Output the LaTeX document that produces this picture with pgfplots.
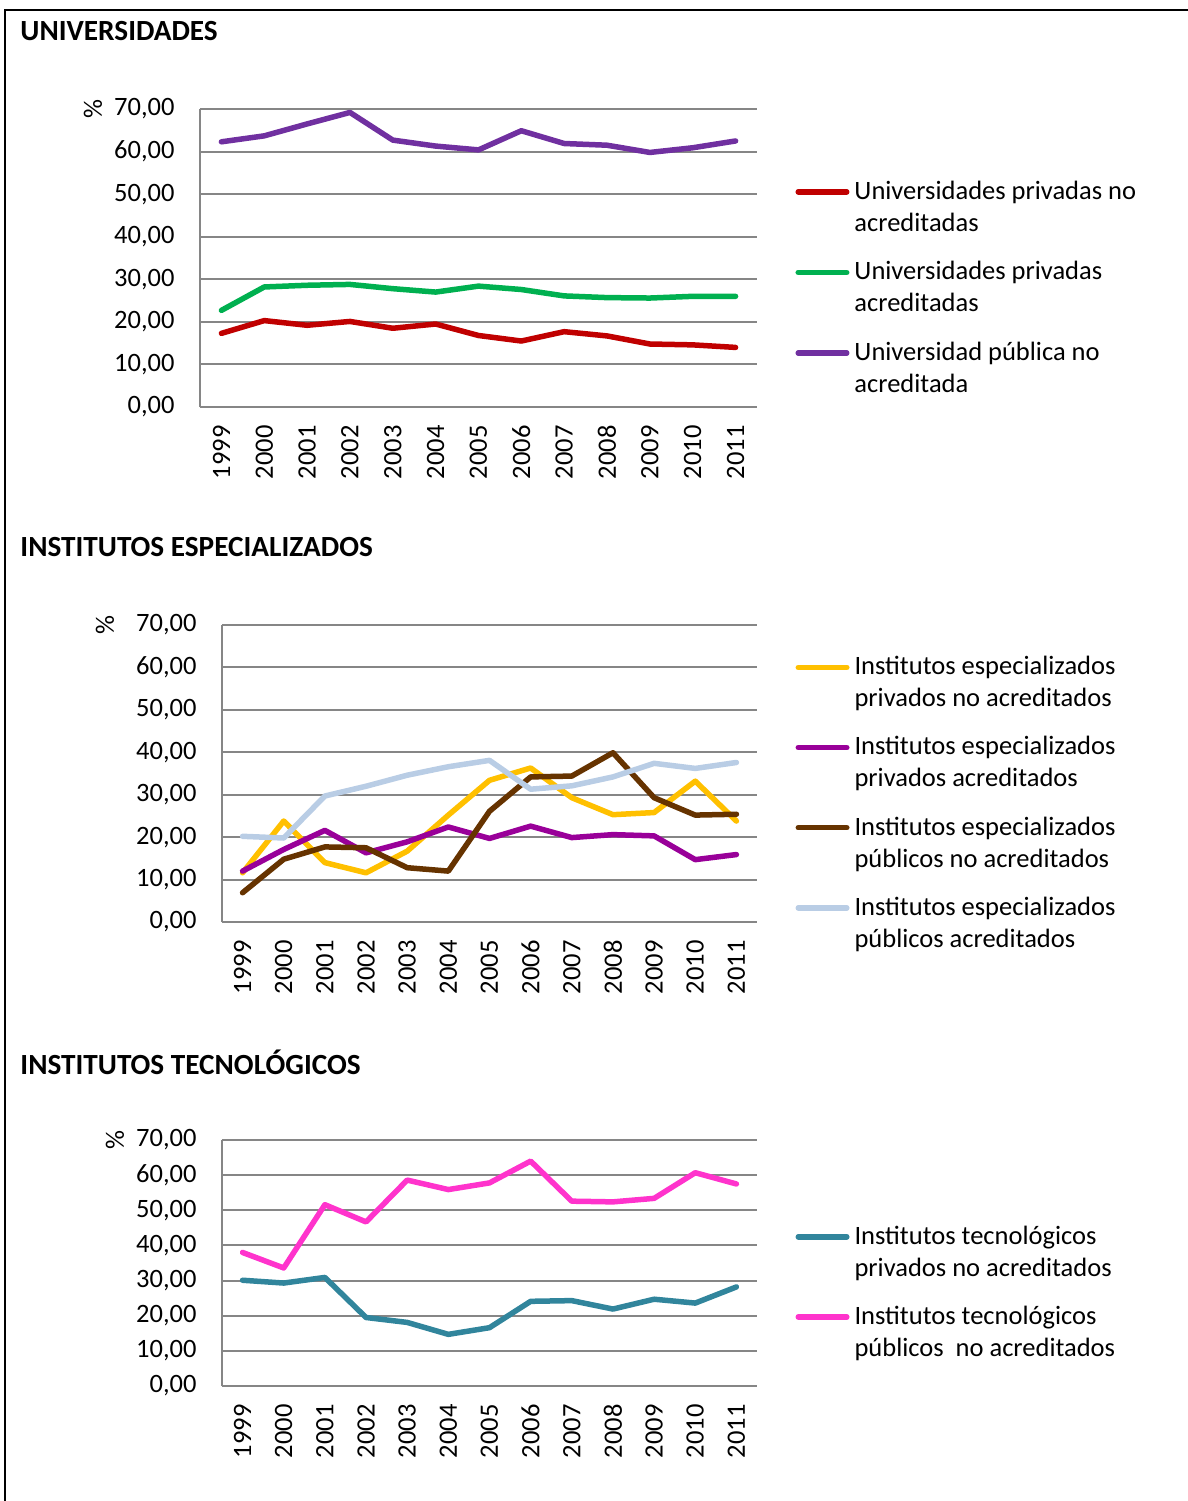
\documentclass[border=0pt]{standalone}
\usepackage{fontspec}
\setmainfont{Carlito}
\usepackage{pgfplots}
\pgfplotsset{compat=1.18}

\newcommand\myfont{\fontsize{10.6}{12.8}\selectfont}
\newcommand\titlefont{\fontsize{11.7}{14}\selectfont\bfseries}

\definecolor{gridgray}{HTML}{868686}
\definecolor{cred}{HTML}{C00000}
\definecolor{cgreen}{HTML}{00B050}
\definecolor{cpurple}{HTML}{7030A0}
\definecolor{cyellow}{HTML}{FFC000}
\definecolor{cmagenta}{HTML}{990099}
\definecolor{cbrown}{HTML}{663300}
\definecolor{clblue}{HTML}{B9CDE5}
\definecolor{cteal}{HTML}{31859C}
\definecolor{cpink}{HTML}{FF33CC}

\pgfplotsset{
  panel/.style={
    scale only axis,
    axis x line*=bottom, axis y line*=left,
    axis line style={draw=gridgray, line width=0.8pt},
    xmin=1998.5, xmax=2011.5, ymin=0, ymax=70,
    xtick={1999,...,2011}, ytick={0,10,...,70},
    ymajorgrids, grid style={draw=gridgray, line width=0.8pt},
    major tick length=0pt,
    tick label style={font=\myfont},
    /pgf/number format/assume math mode=true,
    xticklabel style={rotate=90, anchor=east, inner sep=0pt, /pgf/number format/1000 sep={}},
    xticklabel shift=7.2pt,
    yticklabel style={inner sep=0pt, anchor=east, /pgf/number format/.cd, fixed, fixed zerofill, precision=2, use comma},
    yticklabel shift=10pt,
    ylabel={\%},
    ylabel style={rotate=0, anchor=center, font=\myfont},
    legend cell align=left,
    legend style={draw=none, fill=none, inner sep=0pt, anchor=north west, font=\myfont,
      cells={align=left, inner sep=0pt}, column sep=0pt},
    legend image code/.code={\draw[##1] (1.1pt,6.4pt) -- (20.5pt,6.4pt);},
    every axis plot/.append style={line width=2.2pt, line cap=round, line join=round},
    clip=false,
  }
}

\begin{document}
\begin{tikzpicture}[font=\myfont]
\useasboundingbox (0,0) rectangle (475.2pt,-600.4pt);
\draw[line width=0.8pt] (2pt,-600.4pt) -- (2pt,-4pt) -- (475.2pt,-4pt);

\node[anchor=west, inner sep=0pt, font=\titlefont] at (8pt,-12.4pt) {UNIVERSIDADES};
\node[anchor=west, inner sep=0pt, font=\titlefont] at (8pt,-218.8pt) {INSTITUTOS ESPECIALIZADOS};
\node[anchor=west, inner sep=0pt, font=\titlefont] at (8pt,-424.8pt) {INSTITUTOS TECNOLÓGICOS};

% Universidades
\begin{axis}[panel,
  at={(80pt,-162.8pt)}, anchor=south west,
  width=222.8pt, height=119.2pt,
  ylabel style={at={(axis description cs:-0.192,1)}},
  legend style={at={(1.0682,0.778)}, row sep=6.6pt},
]
\addplot[cred] coordinates {(1999,17.3) (2000,20.3) (2001,19.2) (2002,20.1) (2003,18.5) (2004,19.5) (2005,16.8) (2006,15.5) (2007,17.7) (2008,16.7) (2009,14.8) (2010,14.6) (2011,14.0)};
\addlegendentry{Universidades privadas no\\acreditadas}
\addplot[cgreen] coordinates {(1999,22.7) (2000,28.2) (2001,28.6) (2002,28.8) (2003,27.8) (2004,27.0) (2005,28.4) (2006,27.6) (2007,26.1) (2008,25.7) (2009,25.6) (2010,26.0) (2011,26.0)};
\addlegendentry{Universidades privadas\\acreditadas}
\addplot[cpurple] coordinates {(1999,62.3) (2000,63.7) (2001,66.5) (2002,69.2) (2003,62.7) (2004,61.3) (2005,60.4) (2006,64.9) (2007,61.9) (2008,61.5) (2009,59.8) (2010,60.9) (2011,62.5)};
\addlegendentry{Universidad pública no\\acreditada}
\end{axis}

% Institutos especializados
\begin{axis}[panel,
  at={(88.8pt,-368.8pt)}, anchor=south west,
  width=214pt, height=118.8pt,
  ylabel style={at={(axis description cs:-0.2187,1)}},
  legend style={at={(1.0711,0.913)}, row sep=6.4pt},
]
\addplot[cyellow] coordinates {(1999,11.6) (2000,23.8) (2001,14.0) (2002,11.6) (2003,16.7) (2004,25.2) (2005,33.4) (2006,36.3) (2007,29.3) (2008,25.3) (2009,25.8) (2010,33.2) (2011,23.8)};
\addlegendentry{Institutos especializados\\privados no acreditados}
\addplot[cmagenta] coordinates {(1999,12.0) (2000,17.1) (2001,21.6) (2002,16.3) (2003,18.9) (2004,22.4) (2005,19.7) (2006,22.6) (2007,19.9) (2008,20.6) (2009,20.3) (2010,14.7) (2011,15.9)};
\addlegendentry{Institutos especializados\\privados acreditados}
\addplot[cbrown] coordinates {(1999,6.9) (2000,14.8) (2001,17.7) (2002,17.5) (2003,12.8) (2004,12.0) (2005,26.1) (2006,34.2) (2007,34.4) (2008,39.9) (2009,29.3) (2010,25.2) (2011,25.4)};
\addlegendentry{Institutos especializados\\públicos no acreditados}
\addplot[clblue] coordinates {(1999,20.2) (2000,19.8) (2001,29.7) (2002,32.0) (2003,34.6) (2004,36.6) (2005,38.1) (2006,31.3) (2007,32.1) (2008,34.2) (2009,37.4) (2010,36.2) (2011,37.6)};
\addlegendentry{Institutos especializados\\públicos acreditados}
\end{axis}

% Institutos tecnologicos
\begin{axis}[panel,
  at={(88.8pt,-554.4pt)}, anchor=south west,
  width=214pt, height=98.4pt,
  ylabel style={at={(axis description cs:-0.2,1)}},
  legend style={at={(1.0711,0.674)}, row sep=6.4pt},
]
\addplot[cteal] coordinates {(1999,30.1) (2000,29.3) (2001,30.9) (2002,19.5) (2003,18.1) (2004,14.7) (2005,16.6) (2006,24.1) (2007,24.3) (2008,21.9) (2009,24.7) (2010,23.6) (2011,28.2)};
\addlegendentry{Institutos tecnológicos\\privados no acreditados}
\addplot[cpink] coordinates {(1999,38.0) (2000,33.6) (2001,51.6) (2002,46.7) (2003,58.6) (2004,55.9) (2005,57.8) (2006,64.0) (2007,52.6) (2008,52.4) (2009,53.4) (2010,60.7) (2011,57.5)};
\addlegendentry{Institutos tecnológicos\\públicos~ no acreditados}
\end{axis}
\end{tikzpicture}
\end{document}
